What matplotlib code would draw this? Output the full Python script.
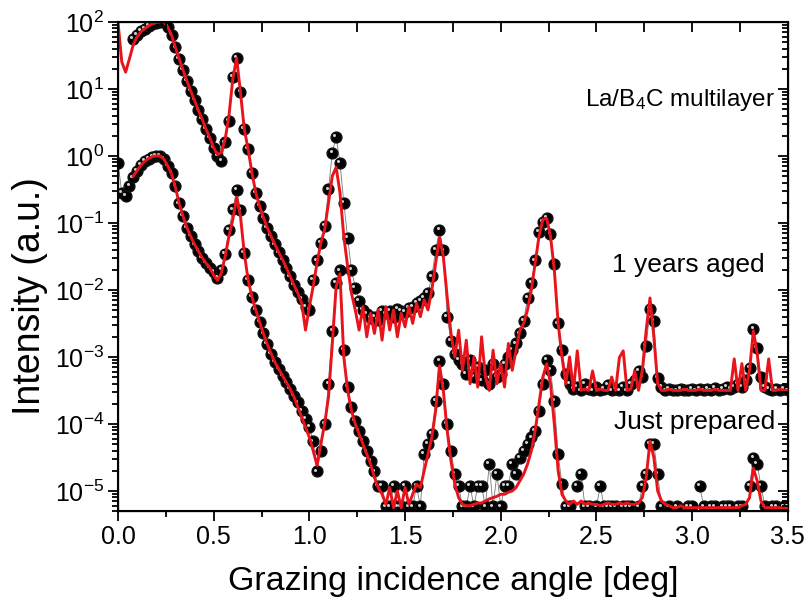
import numpy as np
import matplotlib
matplotlib.use('Agg')
import matplotlib.pyplot as plt
from matplotlib.transforms import ScaledTranslation
from matplotlib.ticker import LogLocator, MultipleLocator, NullFormatter

plt.rcParams['font.family'] = ['Liberation Sans', 'DejaVu Sans']
plt.rcParams['mathtext.fontset'] = 'custom'
plt.rcParams['mathtext.rm'] = 'Liberation Sans'
plt.rcParams['mathtext.it'] = 'Liberation Sans:italic'

# grazing angle grid (deg), one value every 0.02 deg
angle = np.linspace(0, 3.5, 176)
nan = np.nan

# log10 of intensity, one row = 0.2 deg
aged_meas_log = [
    nan, nan, nan, nan, 1.74, 1.80, 1.86, 1.90, 1.94, 1.97,
    1.99, 2.00, 2.00, 1.92, 1.80, 1.62, 1.45, 1.28, 1.12, 0.97,
    0.83, 0.68, 0.55, 0.40, 0.27, 0.12, 0.00, -0.07, 0.20, 0.52,
    1.18, 1.46, 0.95, 0.40, 0.10, -0.25, -0.55, -0.75, -0.92, -1.07,
    -1.20, -1.32, -1.44, -1.55, -1.67, -1.80, -1.93, -2.03, -2.13, -2.25,
    -2.30, -1.85, -1.56, -1.30, -1.05, -0.50, 0.05, 0.28, -0.10, -0.70,
    -1.22, -1.70, -1.97, -2.16, -2.30, -2.36, -2.42, -2.40, -2.45, -2.31,
    -2.35, -2.31, -2.40, -2.28, -2.31, -2.33, -2.27, -2.25, -2.20, -2.16,
    -2.12, -2.05, -1.80, -1.40, -1.11, -1.41, -2.40, -2.76, -2.95, -3.05,
    -3.10, -3.25, -3.05, -3.30, -3.15, -3.35, -3.20, -3.40, -3.10, -3.30,
    -3.25, -3.10, -3.00, -2.90, -2.80, -2.65, -2.46, -2.12, -1.90, -1.56,
    -1.14, -0.98, -0.93, -1.16, -1.61, -2.50, -2.90, -3.26, -3.40, -3.48,
    -3.45, -3.50, -3.40, -3.48, -3.50, -3.45, -3.50, -3.48, -3.42, -3.50,
    -3.48, -3.50, -3.45, -3.50, -3.40, -3.35, -3.21, -3.30, -2.84, -2.28,
    -2.46, -3.31, -3.45, -3.50, -3.48, -3.50, -3.50, -3.48, -3.50, -3.50,
    -3.48, -3.50, -3.48, -3.50, -3.48, -3.50, -3.46, -3.50, -3.48, -3.45,
    -3.48, -3.45, -3.40, -3.45, -3.35, -3.16, -2.58, -2.87, -3.30, -3.45,
    -3.48, -3.50, -3.48, -3.50, -3.48, -3.50,
]
aged_fit_log = [
    2.00, 1.40, 1.25, 1.45, 1.66, 1.78, 1.85, 1.90, 1.94, 1.97,
    1.99, 2.00, 2.00, 1.92, 1.80, 1.62, 1.45, 1.28, 1.12, 0.97,
    0.83, 0.68, 0.55, 0.40, 0.27, 0.12, 0.02, 0.05, 0.25, 0.60,
    1.15, 1.46, 0.95, 0.40, 0.10, -0.25, -0.55, -0.75, -0.92, -1.07,
    -1.20, -1.32, -1.44, -1.55, -1.67, -1.80, -1.93, -2.05, -2.20, -2.60,
    -2.25, -1.95, -1.60, -1.30, -1.10, -0.70, -0.30, -0.17, -0.55, -1.20,
    -1.65, -2.05, -2.30, -2.60, -2.25, -2.70, -2.35, -2.65, -2.30, -2.75,
    -2.25, -2.60, -2.30, -2.70, -2.35, -2.55, -2.25, -2.50, -2.20, -2.40,
    -2.15, -2.30, -2.00, -1.60, -1.22, -1.50, -2.10, -2.65, -3.00, -2.60,
    -3.20, -2.75, -3.40, -3.00, -3.45, -2.70, -3.30, -3.50, -2.90, -3.40,
    -3.10, -3.45, -2.80, -3.20, -2.90, -2.60, -2.50, -2.30, -2.00, -1.60,
    -1.20, -0.95, -0.93, -1.20, -1.70, -2.50, -3.00, -3.40, -3.00, -3.50,
    -2.91, -3.50, -3.48, -3.50, -3.21, -3.50, -3.48, -3.50, -3.50, -3.30,
    -3.50, -3.01, -2.91, -3.50, -3.48, -3.21, -3.50, -3.20, -2.60, -2.12,
    -2.70, -3.40, -3.50, -3.50, -3.48, -3.50, -3.50, -3.50, -3.48, -3.50,
    -3.50, -3.50, -3.48, -3.50, -3.50, -3.50, -3.48, -3.50, -3.50, -3.50,
    -3.50, -3.03, -3.50, -3.10, -3.50, -3.20, -2.61, -2.95, -3.50, -3.50,
    -3.03, -3.50, -3.50, -3.48, -3.50, -3.50,
]
fresh_meas_log = [
    -0.10, -0.55, -0.60, -0.45, -0.32, -0.22, -0.14, -0.08, -0.04, -0.01,
    0.00, 0.00, -0.05, -0.15, -0.25, -0.45, -0.71, -0.90, -1.07, -1.20,
    -1.32, -1.42, -1.52, -1.60, -1.67, -1.73, -1.82, -1.70, -1.46, -1.10,
    -0.80, -0.51, -0.81, -1.45, -1.85, -2.10, -2.30, -2.48, -2.65, -2.81,
    -2.95, -3.08, -3.18, -3.28, -3.38, -3.48, -3.58, -3.68, -3.80, -3.92,
    -4.05, -4.26, -4.71, -4.40, -4.00, -3.40, -2.61, -1.90, -1.71, -2.90,
    -3.45, -3.75, -3.95, -4.11, -4.25, -4.41, -4.55, -4.71, -4.93, -4.93,
    -5.23, -5.23, -4.93, -5.23, -5.23, -4.93, -5.23, -5.23, -4.93, -5.23,
    -4.45, -4.30, -4.15, -3.66, -3.06, -3.41, -4.00, -4.41, -4.75, -4.93,
    -5.23, -5.23, -4.93, -5.23, -4.93, -4.93, -5.23, -4.60, -5.23, -4.75,
    -5.23, -4.93, -4.93, -4.60, -4.75, -4.51, -4.40, -4.30, -4.20, -4.11,
    -3.81, -3.41, -3.05, -3.20, -3.66, -4.45, -4.90, -5.23, -5.23, nan,
    -4.93, -4.75, -5.23, -5.23, nan, -5.23, -4.93, -5.23, -5.23, -5.23,
    -5.23, nan, -5.23, -5.23, -5.23, nan, -5.23, -4.93, -4.75, -4.30,
    -4.30, -4.75, -5.23, nan, -5.23, nan, -5.23, nan, nan, -5.23,
    -5.23, nan, -4.93, -5.23, nan, -5.23, -5.23, nan, -5.23, -5.23,
    -5.23, nan, -5.23, -5.23, nan, -4.93, -4.51, -4.60, -4.93, -5.23,
    nan, -5.23, -5.23, nan, -5.23, -5.23,
]
fresh_fit_log = [
    nan, nan, nan, nan, -0.30, -0.22, -0.14, -0.08, -0.04, -0.01,
    0.00, 0.00, -0.05, -0.15, -0.27, -0.47, -0.71, -0.90, -1.07, -1.20,
    -1.32, -1.42, -1.52, -1.60, -1.67, -1.78, -1.86, -1.75, -1.50, -1.20,
    -0.95, -0.62, -0.90, -1.45, -1.85, -2.10, -2.30, -2.48, -2.65, -2.81,
    -2.95, -3.08, -3.18, -3.28, -3.38, -3.48, -3.60, -3.75, -3.90, -4.05,
    -4.20, -4.40, -4.62, -4.30, -4.00, -3.60, -2.80, -1.95, -1.76, -3.00,
    -3.50, -3.80, -4.00, -4.15, -4.30, -4.45, -4.60, -4.80, -4.95, -5.05,
    -5.20, -4.95, -5.25, -5.00, -5.25, -4.95, -5.20, -5.05, -4.90, -4.95,
    -4.70, -4.45, -4.20, -3.80, -3.13, -3.50, -4.10, -4.55, -4.90, -5.10,
    -5.20, -5.22, -5.22, -5.20, -5.18, -5.18, -5.15, -5.12, -5.10, -5.08,
    -5.05, -5.05, -5.02, -5.00, -4.95, -4.85, -4.75, -4.60, -4.40, -4.10,
    -3.70, -3.30, -3.10, -3.40, -4.00, -4.70, -5.05, -5.15, -5.20, -5.15,
    -5.20, -5.15, -5.20, -5.18, -5.20, -5.20, -5.22, -5.20, -5.18, -5.20,
    -5.20, -5.18, -5.20, -5.18, -5.20, -5.20, -5.18, -5.10, -4.80, -4.26,
    -4.50, -5.00, -5.15, -5.20, -5.22, -5.25, -5.25, -5.22, -5.25, -5.25,
    -5.25, -5.25, -5.25, -5.25, -5.25, -5.25, -5.25, -5.25, -5.25, -5.25,
    -5.25, -5.25, -5.25, -5.22, -5.20, -5.10, -4.66, -4.85, -5.15, -5.25,
    -5.25, -5.25, -5.25, -5.25, -5.25, -5.25,
]

fig = plt.figure(figsize=(8.08, 6.07), dpi=100)
ax = fig.add_axes([0.146, 0.158, 0.829, 0.806])

red = '#e8141b'
hl = ax.transData + ScaledTranslation(-1.3 / 72, 1.3 / 72, fig.dpi_scale_trans)

for meas, fit in [(aged_meas_log, aged_fit_log), (fresh_meas_log, fresh_fit_log)]:
    y_meas = 10 ** np.array(meas)
    y_fit = 10 ** np.array(fit)
    ax.plot(angle, y_meas, color='#777777', lw=0.6, zorder=1)
    ax.plot(angle, y_meas, 'o', ms=7.8, color='black', mec='#111111', zorder=2)
    ax.plot(angle, y_meas, 'o', ms=2.2, color='#cfcfcf', mec='none',
            transform=hl, zorder=3)
    ax.plot(angle, y_fit, color=red, lw=2.1, zorder=4)

ax.set_yscale('log')
ax.set_xlim(0, 3.5)
ax.set_ylim(5e-6, 100)

ax.xaxis.set_major_locator(MultipleLocator(0.5))
ax.xaxis.set_minor_locator(MultipleLocator(0.25))
ax.yaxis.set_major_locator(LogLocator(base=10, numticks=20))
ax.yaxis.set_minor_locator(LogLocator(base=10, subs=np.arange(2, 10), numticks=20))
ax.yaxis.set_minor_formatter(NullFormatter())
ax.xaxis.set_major_formatter(plt.FuncFormatter(lambda v, p: f'{v:.1f}'))

ax.tick_params(which='both', direction='out', top=False, right=False,
               labelsize=18, width=1.3, pad=3)
ax.tick_params(which='major', length=7)
ax.tick_params(which='minor', length=4.5)
for s in ax.spines.values():
    s.set_linewidth(1.5)

# inward ticks on top and right
ax_r = ax.twinx()
ax_r.set_yscale('log')
ax_r.set_ylim(ax.get_ylim())
ax_r.yaxis.set_major_locator(LogLocator(base=10, numticks=20))
ax_r.yaxis.set_minor_locator(LogLocator(base=10, subs=np.arange(2, 10), numticks=20))
ax_r.tick_params(which='both', direction='in', labelright=False, width=1.3)
ax_r.tick_params(which='major', length=7)
ax_r.tick_params(which='minor', length=4.5)
ax_t = ax.twiny()
ax_t.set_xlim(ax.get_xlim())
ax_t.xaxis.set_major_locator(MultipleLocator(0.25))
ax_t.tick_params(which='both', direction='in', labeltop=False, width=1.3, length=7)

ax.set_xlabel('Grazing incidence angle [deg]', fontsize=24.5, labelpad=12)
ax.set_ylabel('Intensity (a.u.)', fontsize=27)
ax.yaxis.set_label_coords(-0.105, 0.44)

ax.text(0.839, 0.84, 'La/B$_4$C multilayer', transform=ax.transAxes,
        fontsize=17.5, ha='center', va='center')
ax.text(0.966, 0.503, '1 years aged', transform=ax.transAxes,
        fontsize=19, ha='right', va='center')
ax.text(0.981, 0.182, 'Just prepared', transform=ax.transAxes,
        fontsize=19, ha='right', va='center')

fig.savefig('out.png', dpi=100)
